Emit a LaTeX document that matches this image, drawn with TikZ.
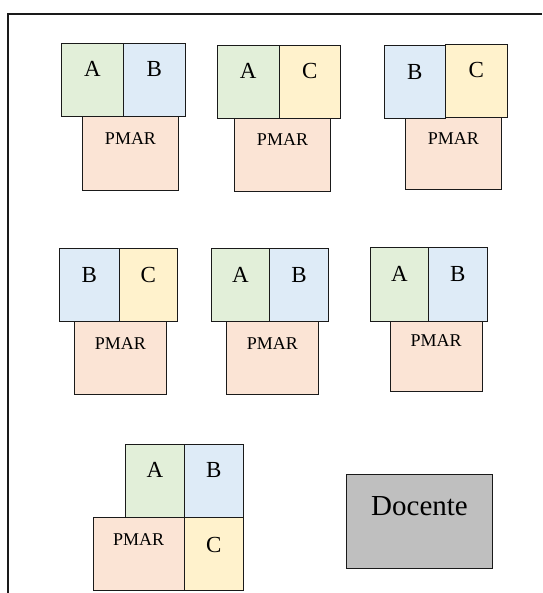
\documentclass[tikz,border=0pt]{standalone}
\usepackage{fontspec}
\setmainfont{Liberation Serif}
\usepackage{xcolor}
\definecolor{slotGreen}{HTML}{E2EFD9}
\definecolor{slotBlue}{HTML}{DEEBF7}
\definecolor{slotYellow}{HTML}{FFF2CC}
\definecolor{slotPeach}{HTML}{FBE4D5}
\definecolor{deskGray}{HTML}{BFBFBF}
\definecolor{lineDark}{HTML}{1A1A1A}
\usetikzlibrary{positioning}
\tikzset{
    seat/.style={
        draw=lineDark,
        rectangle,
        line width=1pt,
        inner sep=0pt,
        minimum width=61.6pt,
        minimum height=73.3pt,
        font=\fontsize{23}{23}\selectfont,
        text height=15pt,
        text depth=21pt
    },
    seatA/.style={seat, fill=slotGreen},
    seatB/.style={seat, fill=slotBlue},
    seatC/.style={seat, fill=slotYellow},
    pmar/.style={
        seat,
        fill=slotPeach,
        minimum width=95.6pt,
        font=\fontsize{18}{18}\selectfont,
        text height=12pt,
        text depth=29pt
    },
    desk/.style={
        draw=lineDark,
        fill=deskGray,
        rectangle,
        line width=1pt,
        inner sep=0pt,
        minimum width=145.6pt,
        minimum height=94.3pt,
        font=\fontsize{29}{29}\selectfont,
        text height=19pt,
        text depth=30pt
    },
    frame/.style={draw=lineDark, line width=1.3pt}
}
\begin{document}
\begin{tikzpicture}[x=1pt,y=-1pt]
    \useasboundingbox (0,0) rectangle (542,593);
    % room border
    \coordinate (fbl) at (8,593);
    \coordinate (ftl) at (8,14);
    \coordinate (ftr) at (542,14);
    \draw[frame] (fbl) -- (ftl) -- (ftr);

    % first row
    \node[pmar] (p1) at (130.5,153.4) {PMAR};
    \node[seatA] (a1) at (92.5,80) {A};
    \node[seatB] (b1) at (154.2,80) {B};

    \node[pmar, minimum height=73.7pt] (p2) at (282.5,154.2) {PMAR};
    \node[seatA, minimum height=72.6pt] (a2) at (248.2,82) {A};
    \node[seatC, minimum height=72.6pt] (c2) at (309.9,82) {C};

    \node[pmar, minimum width=96pt, minimum height=73pt] (p3) at (453.3,152.8) {PMAR};
    \node[seatB, minimum height=73pt] (b3) at (414.9,82.5) {B};
    \node[seatC, minimum width=61.3pt] (c3) at (476.4,80.7) {C};

    % second row
    \node[pmar, minimum width=92.7pt, minimum height=72.6pt] (p4) at (120.4,358) {PMAR};
    \node[seatB, minimum width=59.3pt] (b4) at (89.4,285) {B};
    \node[seatC, minimum width=58.7pt] (c4) at (148.4,285) {C};

    \node[pmar, minimum width=92.7pt, minimum height=73pt] (p5) at (272.4,358.2) {PMAR};
    \node[seatA, minimum width=57.6pt] (a5) at (240.5,285) {A};
    \node[seatB, minimum width=59.4pt] (b5) at (299,285) {B};

    \node[pmar, minimum width=92.3pt, minimum height=70.3pt, text depth=31pt] (p6) at (436.2,356.2) {PMAR};
    \node[seatA, minimum width=57.6pt] (a6) at (399.5,284.4) {A};
    \node[seatB, minimum width=59pt] (b6) at (457.8,284.4) {B};

    % third row
    \node[pmar, minimum width=90.7pt, minimum height=73.4pt] (p7) at (138.7,554) {PMAR};
    \node[seatC, minimum width=59.3pt, minimum height=73.4pt, text depth=19pt] (c7) at (213.7,554) {C};
    \node[seatA, minimum width=58.6pt] (a7) at (155,480.7) {A};
    \node[seatB, minimum width=59pt] (b7) at (213.8,480.7) {B};

    % teacher desk
    \node[desk] (docente) at (419.5,521.2) {Docente};
\end{tikzpicture}
\end{document}
